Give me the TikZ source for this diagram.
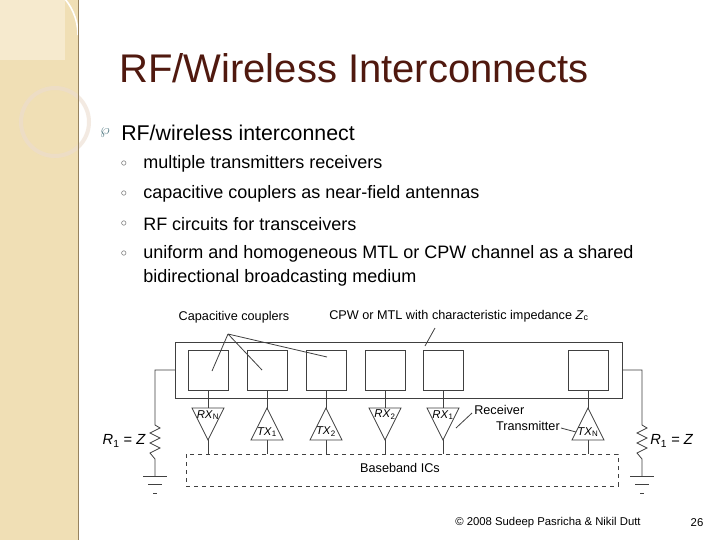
\documentclass[tikz,border=0pt]{standalone}
\usepackage{fontspec}
\setmainfont{Liberation Sans}
\begin{document}
\begin{tikzpicture}[x=0.75pt,y=-0.75pt,
  ln/.style={draw=black!75,line width=0.6pt},
  lbl/.style={font=\fontsize{9.5}{11}\selectfont,inner sep=0pt},
  tl/.style={font=\fontsize{8.5}{10}\selectfont,inner sep=0pt},
  sub/.style={anchor=west,font=\fontsize{13.5}{16}\selectfont,inner sep=0pt},
  dot/.style={anchor=center,font=\fontsize{9}{10}\selectfont,text=black!70,inner sep=0pt}]
\useasboundingbox (0,0) rectangle (720,540);
\fill[white] (0,0) rectangle (720,540);
% sidebar
\fill[color={rgb,255:red,240;green,223;blue,181}] (0,0) rectangle (78,540);
\fill[color={rgb,255:red,246;green,234;blue,206}] (0,0) rectangle (65,60);
\draw[white,line width=1.2pt] (78,35) arc (0:-250:60 and 58);
\draw[white!70!black!30!brown!30,line width=3pt,opacity=0.6] (55,122) circle (34);
\draw[color={rgb,255:red,150;green,130;blue,95},line width=1pt] (78.5,0) -- (78.5,540);
% title & bullets
\node[anchor=west,inner sep=0pt,text={rgb,255:red,80;green,25;blue,15},font=\fontsize{30}{34}\selectfont] (title) at (119,68) {RF/Wireless Interconnects};
\node[anchor=west,inner sep=0pt,text={rgb,255:red,80;green,120;blue,130},font=\fontsize{11}{12}\selectfont] (b0m) at (100,133) {$\wp$};
\node[anchor=west,inner sep=0pt,font=\fontsize{16}{19}\selectfont] (b0) at (121,133) {RF/wireless interconnect};
\node[dot] (d1) at (124,164) {$\circ$};
\node[sub] (s1) at (143,164) {multiple transmitters receivers};
\node[dot] (d2) at (124,194) {$\circ$};
\node[sub] (s2) at (143,194) {capacitive couplers as near-field antennas};
\node[dot] (d3) at (124,224) {$\circ$};
\node[sub] (s3) at (143,224) {RF circuits for transceivers};
\node[dot] (d4) at (124,254) {$\circ$};
\node[sub] (s4) at (143,254) {uniform and homogeneous MTL or CPW channel as a shared};
\node[sub] (s5) at (143,278) {bidirectional broadcasting medium};
% diagram
\draw[ln] (175,342) rectangle (622,398);
\foreach \i/\x in {1/208,2/267,3/326,4/385,5/443,6/588}{
  \node[ln,draw,minimum width=30pt,minimum height=30pt,inner sep=0pt] (sq\i) at (\x,370) {};
  \draw[ln] (sq\i.south) -- (\x,454);
}
% down triangles (RX)
\foreach \x/\t in {208/{N},385/{2},443/{1}}{
  \fill[white] (\x-16,408) -- (\x+16,408) -- (\x,440) -- cycle;
  \draw[ln] (\x-16,408) -- (\x+16,408) -- (\x,440) -- cycle;
  \node[tl] at (\x,415) {\textit{RX}\textsubscript{\t}};
}
\foreach \x/\t in {267/{1},326/{2},588/{N}}{
  \fill[white] (\x-16,440) -- (\x+16,440) -- (\x,408) -- cycle;
  \draw[ln] (\x-16,440) -- (\x+16,440) -- (\x,408) -- cycle;
  \node[tl] at (\x,432) {\textit{TX}\textsubscript{\t}};
}
% resistors
\foreach \x/\e in {155/175,642/622}{
  \draw[ln] (\e,370) -- (\x,370) -- (\x,425) -- (\x+5,428) -- (\x-5,433) -- (\x+5,438) -- (\x-5,443) -- (\x+5,448) -- (\x-5,453) -- (\x,459) -- (\x,476);
  \draw[ln] (\x-12,476) -- (\x+12,476);
  \draw[ln] (\x-7,484) -- (\x+7,484);
  \draw[ln] (\x-2,493) -- (\x+2,493);
}
\node[lbl,anchor=east,font=\fontsize{11}{12}\selectfont] (r1) at (146,441) {\textit{R}\textsubscript{1} = \textit{Z}};
\node[lbl,anchor=west,font=\fontsize{11}{12}\selectfont] (r2) at (650,441) {\textit{R}\textsubscript{1} = \textit{Z}};
\draw[ln,dashed] (186,454) rectangle (618,486);
\node[lbl] (bb) at (400,468) {Baseband ICs};
\node[lbl] (cc) at (234,317) {Capacitive couplers};
\node[lbl,anchor=west] (cpw) at (329,316) {CPW or MTL with characteristic impedance \textit{Z}\textsubscript{c}};
\coordinate (cp) at (228,334);
\draw[ln] (cp) -- (212,371) (cp) -- (262,370) (cp) -- (327,357);
\draw[ln] (435,328) -- (425,346);
\node[lbl,anchor=west] (rx) at (474,410) {Receiver};
\draw[ln] (472,413) -- (456,428);
\node[lbl,anchor=east] (tx) at (560,426) {Transmitter};
\draw[ln] (561,428) -- (576,432);
% footer
\node[anchor=west,inner sep=0pt,font=\fontsize{8.5}{10}\selectfont] (ft) at (455,523) {© 2008 Sudeep Pasricha \& Nikil Dutt};
\node[inner sep=0pt,font=\fontsize{8.5}{10}\selectfont] (pg) at (697,523) {26};
\end{tikzpicture}
\end{document}
